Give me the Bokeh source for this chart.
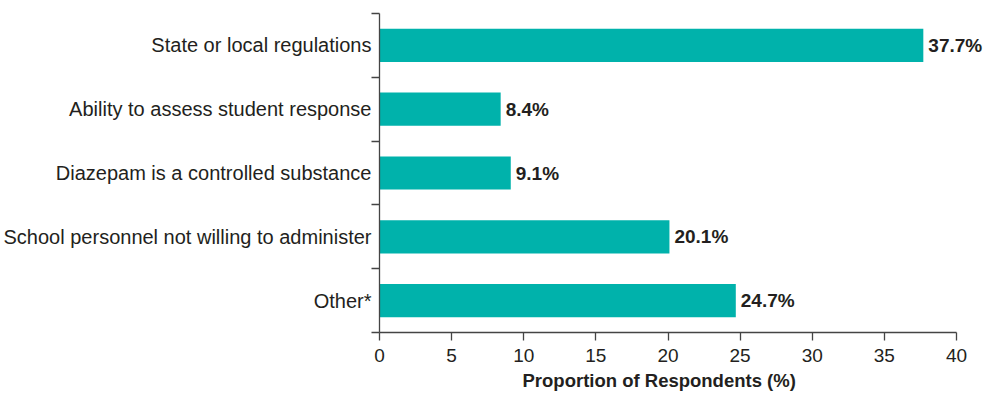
from bokeh.plotting import figure
from bokeh.models import ColumnDataSource, FixedTicker, Range1d, Title
from bokeh.core.properties import value
from bokeh.embed import file_html
from bokeh.resources import INLINE

# Barriers reported, listed top to bottom
categories = [
    "State or local regulations",
    "Ability to assess student response",
    "Diazepam is a controlled substance",
    "School personnel not willing to administer",
    "Other*",
]
percentages = [37.7, 8.4, 9.1, 20.1, 24.7]
x_ticks = [0, 5, 10, 15, 20, 25, 30, 35, 40]
x_max = 40
x_title = "Proportion of Respondents (%)"

n = len(categories)
# numeric band centres so that ticks can sit on the band boundaries
centres = [n - i - 0.5 for i in range(n)]
labels = [f"{v:.1f}%" for v in percentages]

source = ColumnDataSource(data=dict(y=centres, pct=percentages, label=labels))

FONT = "Liberation Sans"
INK = "#231F20"
TEAL = "#00B2AB"
AXIS = "#444444"

# the frame runs to the right edge so the value labels are not clipped;
# the x axis itself is bounded to 0..40
LEFT, AXIS_END, TOTAL_W = 379, 956, 984
x_span = x_max * (TOTAL_W - LEFT) / (AXIS_END - LEFT)

p = figure(
    width=TOTAL_W, height=397,
    x_range=Range1d(0, x_span), y_range=Range1d(0, n),
    output_backend="svg", toolbar_location=None,
    min_border_left=LEFT, min_border_right=0,
    min_border_top=13, min_border_bottom=65,
)
p.outline_line_color = None
p.grid.grid_line_color = None
p.background_fill_color = "white"
p.border_fill_color = "white"

p.hbar(y="y", left=0, right="pct", height=0.52, source=source,
       fill_color=TEAL, line_color=None)

p.text(x="pct", y="y", text="label", source=source, x_offset=5,
       text_align="left", text_baseline="middle",
       text_font=value(FONT), text_font_style="bold",
       text_font_size="19px", text_color=INK)

# x axis
xa = p.xaxis[0]
xa.bounds = (0, x_max)
xa.ticker = FixedTicker(ticks=x_ticks)
xa.major_label_text_font = FONT
xa.major_label_text_font_size = "19px"
xa.major_label_text_color = INK
xa.major_label_standoff = 8
xa.major_tick_in = 0
xa.major_tick_out = 8
xa.minor_tick_line_color = None
xa.axis_line_color = AXIS
xa.major_tick_line_color = AXIS
xa.axis_line_width = 1.3
xa.major_tick_line_width = 1.3

# x axis title, placed under the bounded axis rather than the wider frame
p.add_layout(Title(text=x_title, align="left", offset=143, standoff=7,
                   text_font=FONT, text_font_style="bold",
                   text_font_size="18.5px", text_color=INK), "below")

# y axis: category names at band centres, tick marks at band boundaries
ya = p.yaxis[0]
ya.ticker = FixedTicker(ticks=centres, minor_ticks=list(range(n + 1)))
ya.major_label_overrides = {c: name for c, name in zip(centres, categories)}
ya.major_label_text_font = FONT
ya.major_label_text_font_size = "20px"
ya.major_label_text_color = INK
ya.major_label_standoff = 0
ya.major_tick_in = 0
ya.major_tick_out = 0
ya.major_tick_line_color = None
ya.minor_tick_in = 0
ya.minor_tick_out = 8
ya.minor_tick_line_color = AXIS
ya.minor_tick_line_width = 1.3
ya.axis_line_color = AXIS
ya.axis_line_width = 1.3

open("out.html", "w").write(file_html(p, INLINE))
